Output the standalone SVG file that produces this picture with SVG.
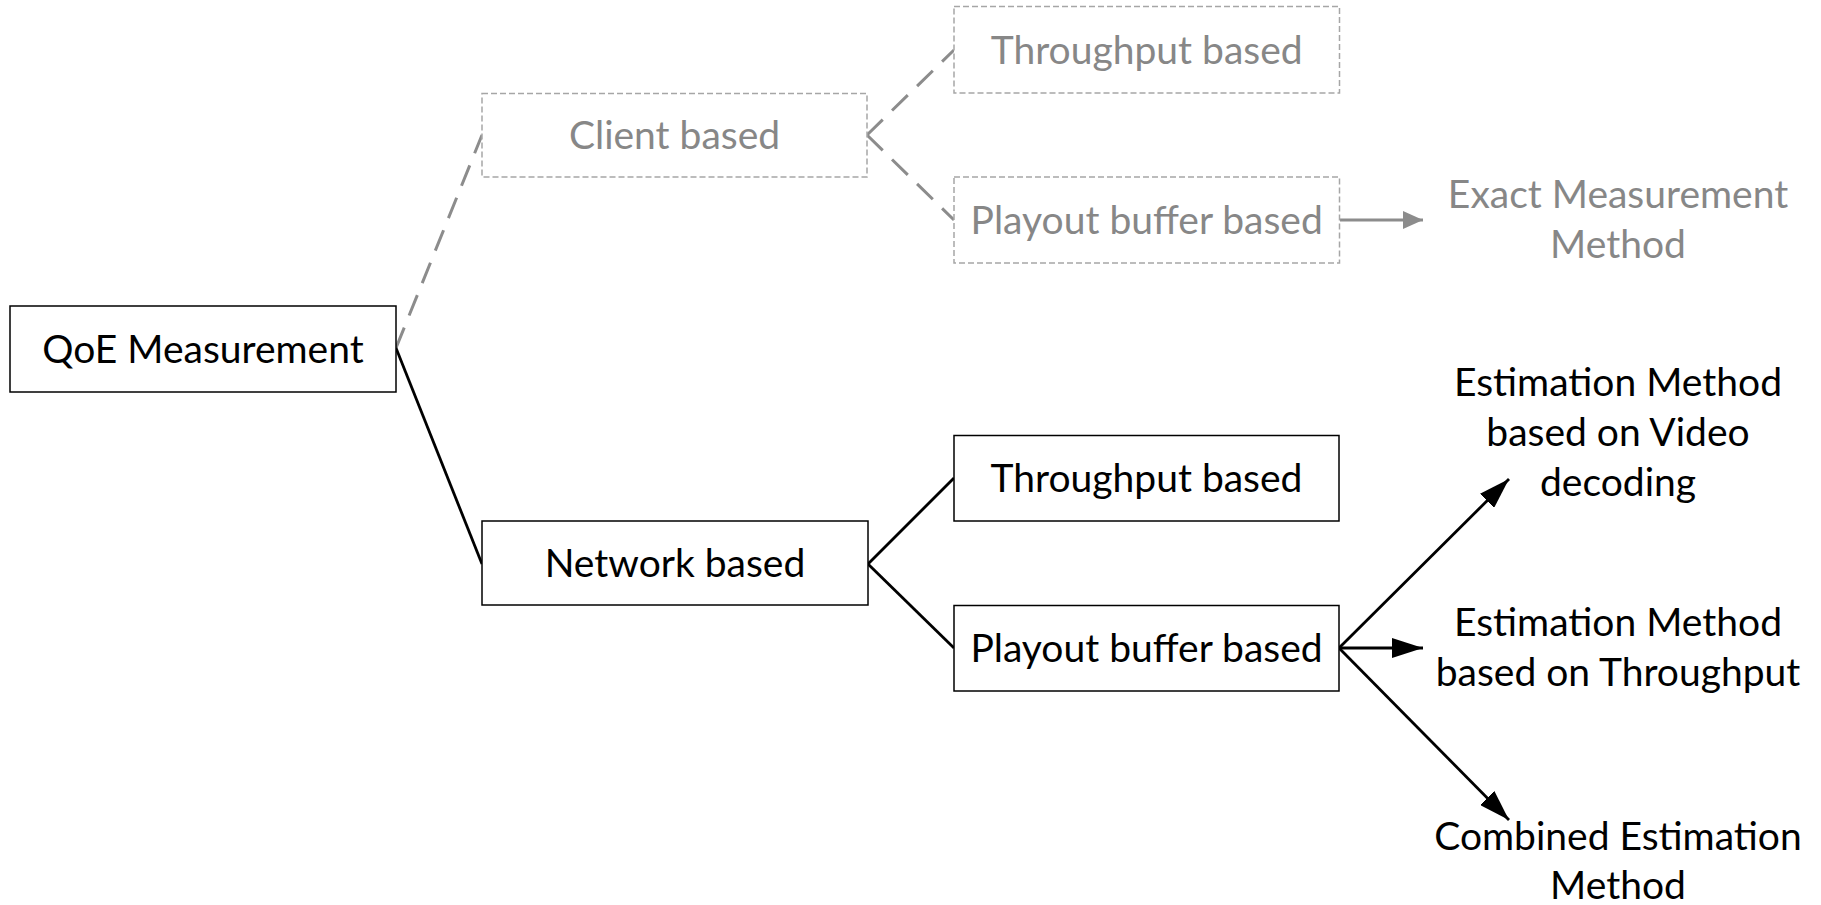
<svg xmlns="http://www.w3.org/2000/svg" width="1821" height="905" viewBox="0 0 1821 905">
<style>
text{font-family:Lato,"Open Sans","DejaVu Sans",sans-serif;font-size:39px;text-anchor:middle}
.box{fill:#fff;stroke:#000;stroke-width:1.5}
.gbox{fill:#fff;stroke:#a6a6a6;stroke-width:1.5;stroke-dasharray:6 3}
.t{fill:#000}
.gt{fill:#878787}
.ln{fill:none;stroke:#000;stroke-width:2.8}
.gln{fill:none;stroke:#8c8c8c;stroke-width:3;stroke-dasharray:22 13}
.arr{fill:none;stroke:#000;stroke-width:2.8;marker-end:url(#ah)}
.garr{fill:none;stroke:#8c8c8c;stroke-width:3;marker-end:url(#gah)}
</style>
<defs>
<marker id="ah" viewBox="0 0 31 20" refX="31" refY="10" markerWidth="31" markerHeight="20" markerUnits="userSpaceOnUse" orient="auto">
<path d="M0,0 L31,10 L0,20 Z" fill="#000"/>
</marker>
<marker id="gah" viewBox="0 0 20 18" refX="20" refY="9" markerWidth="20" markerHeight="18" markerUnits="userSpaceOnUse" orient="auto">
<path d="M0,0 L20,9 L0,18 Z" fill="#8c8c8c"/>
</marker>
</defs>
<rect width="1821" height="905" fill="#fff"/>
<g id="connectors">
<line class="gln" x1="396" y1="348" x2="482" y2="135"/>
<line class="gln" x1="867" y1="135" x2="954" y2="50"/>
<line class="gln" x1="867" y1="135" x2="954" y2="220"/>
<line class="ln" x1="396" y1="348" x2="482" y2="564"/>
<line class="ln" x1="868" y1="564" x2="954" y2="478"/>
<line class="ln" x1="868" y1="564" x2="954" y2="648"/>
<line class="garr" x1="1340" y1="220" x2="1423" y2="220"/>
<line class="arr" x1="1339" y1="648" x2="1509" y2="479"/>
<line class="arr" x1="1339" y1="648" x2="1423" y2="648"/>
<line class="arr" x1="1339" y1="648" x2="1509" y2="820"/>
</g>
<g id="qoe">
<rect class="box" x="10" y="306" width="386" height="86"/>
<text class="t" x="203" y="363">QoE Measurement</text>
</g>
<g id="client">
<rect class="gbox" x="482" y="93.5" width="385" height="83.5"/>
<text class="gt" x="674.5" y="149">Client based</text>
</g>
<g id="client-throughput">
<rect class="gbox" x="954" y="6.5" width="385.5" height="86.5"/>
<text class="gt" x="1146.7" y="64">Throughput based</text>
</g>
<g id="client-playout">
<rect class="gbox" x="954" y="177" width="385.5" height="86"/>
<text class="gt" x="1146.7" y="234">Playout buffer based</text>
</g>
<g id="exact">
<text class="gt" x="1618" y="208">Exact Measurement</text>
<text class="gt" x="1618" y="258">Method</text>
</g>
<g id="network">
<rect class="box" x="482" y="521" width="386" height="84"/>
<text class="t" x="675" y="577">Network based</text>
</g>
<g id="net-throughput">
<rect class="box" x="954" y="435.5" width="385" height="85.5"/>
<text class="t" x="1146.5" y="492">Throughput based</text>
</g>
<g id="net-playout">
<rect class="box" x="954" y="605.5" width="385" height="85.5"/>
<text class="t" x="1146.5" y="662">Playout buffer based</text>
</g>
<g id="est-video">
<text class="t" x="1618" y="396">Estimation Method</text>
<text class="t" x="1618" y="446">based on Video</text>
<text class="t" x="1618" y="496">decoding</text>
</g>
<g id="est-throughput">
<text class="t" x="1618" y="636">Estimation Method</text>
<text class="t" x="1618" y="686">based on Throughput</text>
</g>
<g id="combined">
<text class="t" x="1618" y="850">Combined Estimation</text>
<text class="t" x="1618" y="899">Method</text>
</g>
</svg>
